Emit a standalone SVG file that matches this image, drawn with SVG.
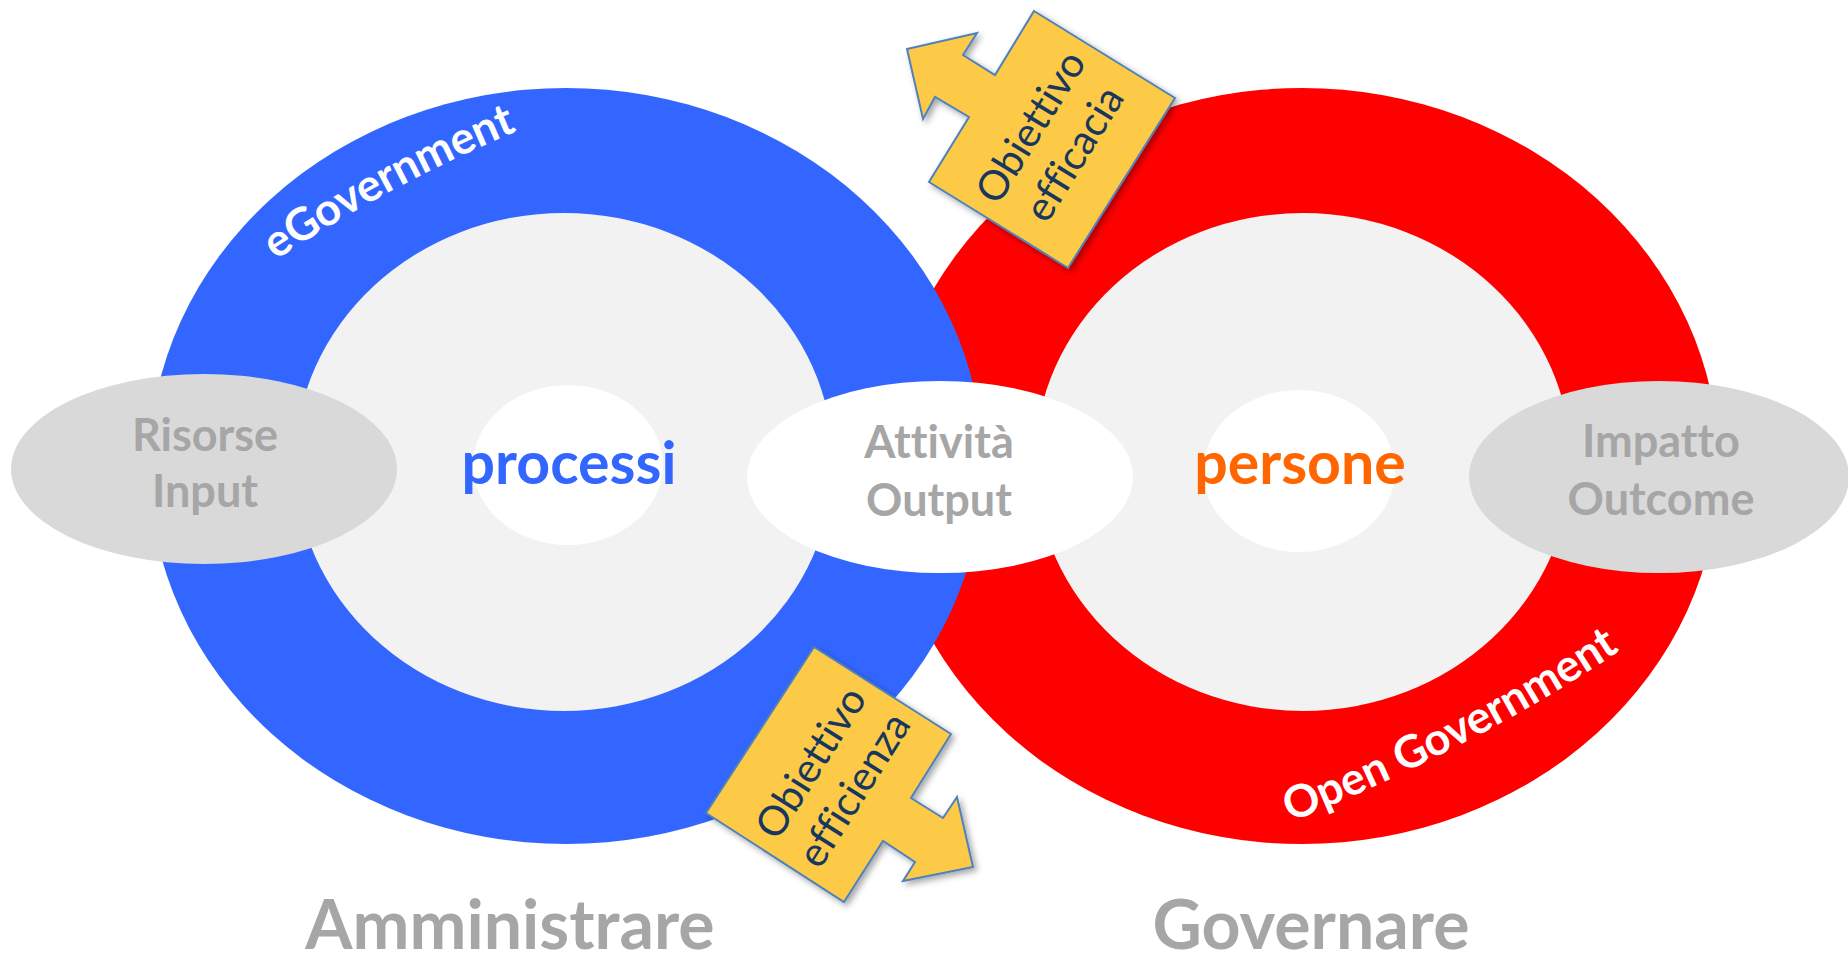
<svg xmlns="http://www.w3.org/2000/svg" width="1848" height="957" viewBox="0 0 1848 957">
  <defs>
    <style>
      text { font-variant-ligatures: none; font-feature-settings: "liga" 0, "clig" 0; }
      .ringlbl { font-family: Lato, "Liberation Sans", sans-serif; font-weight: bold; fill: #FFFFFF; }
      .io { font-family: Lato, "Liberation Sans", sans-serif; font-weight: bold; font-size: 45px; fill: #A6A6A6; text-anchor: middle; }
      .core { font-family: Lato, "Liberation Sans", sans-serif; font-weight: bold; font-size: 59px; text-anchor: middle; }
      .big { font-family: Lato, "Liberation Sans", sans-serif; font-weight: bold; font-size: 68px; fill: #A6A6A6; text-anchor: middle; }
      .goal { font-family: Lato, "Liberation Sans", sans-serif; font-size: 41px; fill: #17375E; text-anchor: middle; }
      .arrow { fill: #FCCA46; stroke: #4F81BD; stroke-width: 2; stroke-linejoin: miter; }
      .inner { fill: #F2F2F2; }
    </style>
    <filter id="shadow" x="-20%" y="-20%" width="140%" height="140%">
      <feDropShadow dx="3" dy="3" stdDeviation="3" flood-color="#000000" flood-opacity="0.35"/>
    </filter>
    <path id="egovPath" d="M273,262 Q393,182 520,130"/>
    <path id="opengovPath" d="M1286,824 Q1472,750 1624,648"/>
  </defs>

  <rect width="1848" height="957" fill="#FFFFFF"/>

  <g id="ring-governare">
    <ellipse cx="1302" cy="466" rx="417" ry="378" fill="#FF0000"/>
    <ellipse class="inner" cx="1303" cy="462" rx="268" ry="249"/>
  </g>

  <g id="ring-amministrare">
    <ellipse cx="566" cy="466" rx="417" ry="378" fill="#3366FF"/>
    <ellipse class="inner" cx="564" cy="462" rx="269" ry="249"/>
    <text class="ringlbl" font-size="45"><textPath href="#egovPath" startOffset="50%" text-anchor="middle">eGovernment</textPath></text>
  </g>

  <g id="open-government-label">
    <text class="ringlbl" font-size="45"><textPath href="#opengovPath" startOffset="50%" text-anchor="middle">Open Government</textPath></text>
  </g>

  <g id="node-processi">
    <ellipse cx="568" cy="465" rx="95" ry="80" fill="#FFFFFF"/>
    <text class="core" x="569" y="484" fill="#3366FF">processi</text>
  </g>

  <g id="node-persone">
    <ellipse cx="1299" cy="471" rx="96" ry="81" fill="#FFFFFF"/>
    <text class="core" x="1300" y="484" fill="#FF6600">persone</text>
  </g>

  <g id="node-risorse">
    <ellipse cx="204" cy="469" rx="193" ry="95" fill="#D9D9D9"/>
    <text class="io" x="205" y="451">Risorse</text>
    <text class="io" x="205" y="507">Input</text>
  </g>

  <g id="node-attivita">
    <ellipse cx="940" cy="477" rx="193" ry="96" fill="#FFFFFF"/>
    <text class="io" x="939" y="458">Attività</text>
    <text class="io" x="939" y="516">Output</text>
  </g>

  <g id="node-impatto">
    <ellipse cx="1659" cy="477" rx="190" ry="96" fill="#D9D9D9"/>
    <text class="io" x="1661" y="457">Impatto</text>
    <text class="io" x="1661" y="515">Outcome</text>
  </g>

  <g id="connectors">
    <g id="arrow-efficacia">
      <polygon class="arrow" filter="url(#shadow)" points="1034,11 1175,98 1068,268 929,182 969,117 935,97 923,119 907,49 977,33 963,55 995,75"/>
      <g transform="translate(1052,140) rotate(-58.3)">
        <text class="goal" x="0" y="-11">Obiettivo</text>
        <text class="goal" x="0" y="40">efficacia</text>
      </g>
    </g>
    <g id="arrow-efficienza">
      <polygon class="arrow" filter="url(#shadow)" points="814,647 951,734 911,798 943,818 957,797 973,867 903,881 915,862 883,841 844,902 706,813"/>
      <g transform="translate(832,776) rotate(-57.8)">
        <text class="goal" x="0" y="-11">Obiettivo</text>
        <text class="goal" x="0" y="40">efficienza</text>
      </g>
    </g>
  </g>

  <g id="label-amministrare">
    <text class="big" x="510" y="949">Amministrare</text>
  </g>
  <g id="label-governare">
    <text class="big" x="1311" y="949">Governare</text>
  </g>
</svg>
